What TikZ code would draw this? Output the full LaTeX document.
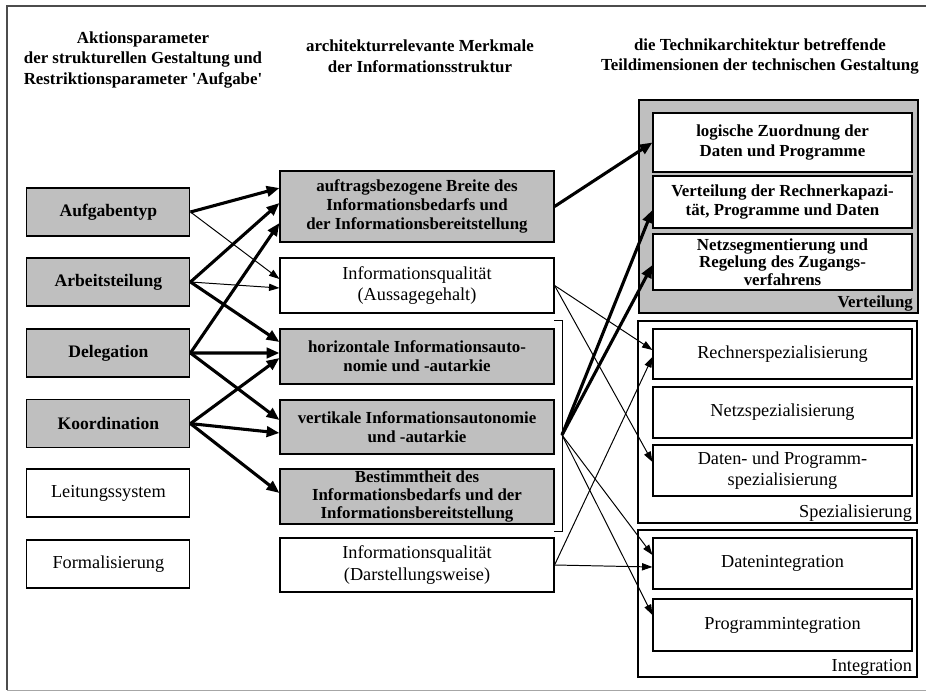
\documentclass[tikz,border=0pt]{standalone}
\usepackage{fontspec}
\setmainfont{Liberation Serif}
\usetikzlibrary{arrows.meta,shapes}

\begin{document}
\begin{tikzpicture}
\tikzstyle{graybox}=[rectangle, draw, line width=0.8pt, fill=black!25, font=\bfseries\fontsize{12}{13.5}\selectfont, align=center, inner sep=0pt]
\tikzstyle{whitebox}=[rectangle, draw, line width=0.8pt, fill=white, font=\fontsize{13}{15}\selectfont, align=center, inner sep=0pt]
\tikzstyle{leftbox}=[minimum width=4.075cm, minimum height=1.2cm]
\tikzstyle{midbox}=[minimum width=6.85cm]
\tikzstyle{rightbox}=[minimum width=6.475cm]
\tikzstyle{groupbox}=[rectangle, draw, line width=0.8pt, minimum width=6.975cm, inner sep=0pt]
\tikzstyle{heading}=[font=\bfseries\fontsize{12}{14.5}\selectfont, align=center]
\tikzstyle{thickarr}=[line width=2.2pt, -{Triangle[length=0.32cm,width=0.26cm]}]
\tikzstyle{thinarr}=[line width=0.7pt, -{Triangle[length=0.26cm,width=0.18cm]}]

\useasboundingbox (0,0) rectangle (23.15,-17.275);

% frame
\draw[black!70, line width=0.9pt] (23.3,-0.15) -- (0.175,-0.15) -- (0.175,-17.25);
\draw[black!35, line width=0.6pt] (0.175,-17.25) -- (23.3,-17.25);

% headings
\node[heading] (h1) at (3.575,-1.5) {Aktionsparameter\\ der strukturellen Gestaltung und\\ Restriktionsparameter \textquotesingle Aufgabe\textquotesingle};
\node[heading] (h2) at (10.5,-1.41) {architekturrelevante Merkmale\\ der Informationsstruktur};
\node[heading] (h3) at (19.0,-1.41) {die Technikarchitektur betreffende\\ Teildimensionen der technischen Gestaltung};

% left column
\node[graybox, leftbox, font=\bfseries\fontsize{12.5}{14}\selectfont] (aufg) at (2.71,-5.3) {Aufgabentyp};
\node[graybox, leftbox, font=\bfseries\fontsize{12.5}{14}\selectfont] (arbt) at (2.71,-7.05) {Arbeitsteilung};
\node[graybox, leftbox, font=\bfseries\fontsize{12.5}{14}\selectfont] (deleg) at (2.71,-8.825) {Delegation};
\node[graybox, leftbox, font=\bfseries\fontsize{12.5}{14}\selectfont] (koord) at (2.71,-10.59) {Koordination};
\node[whitebox, leftbox] (leit) at (2.71,-12.325) {Leitungssystem};
\node[whitebox, leftbox] (formal) at (2.71,-14.1) {Formalisierung};

% middle column
\node[graybox, midbox, minimum height=1.775cm] (breite) at (10.425,-5.1625)
  {auftragsbezogene Breite des\\ Informationsbedarfs und\\ der Informationsbereitstellung};
\node[whitebox, midbox, minimum height=1.375cm] (aussage) at (10.425,-7.1375)
  {Informationsqualität\\ (Aussagegehalt)};
\node[graybox, midbox, minimum height=1.375cm] (horiz) at (10.425,-8.9125)
  {horizontale Informationsauto-\\ nomie und -autarkie};
\node[graybox, midbox, minimum height=1.35cm] (vertik) at (10.425,-10.675)
  {vertikale Informationsautonomie\\ und -autarkie};
\node[graybox, midbox, minimum height=1.375cm, font=\bfseries\fontsize{12}{12.5}\selectfont] (bestimmt) at (10.425,-12.4125)
  {Bestimmtheit des\\ Informationsbedarfs und der\\ Informationsbereitstellung};
\node[whitebox, midbox, minimum height=1.35cm] (darst) at (10.425,-14.125)
  {Informationsqualität\\ (Darstellungsweise)};

% bracket
\coordinate (brk) at (14.05,-10.875);
\draw[line width=0.7pt] (13.85,-8.0) -- (14.05,-8.0) -- (14.05,-13.275) -- (13.85,-13.275);

% right column: Verteilung
\node[groupbox, fill=black!25, minimum height=5.325cm] (verteil) at (19.4625,-5.1625) {};
\node[anchor=south east, font=\bfseries\fontsize{12}{14}\selectfont, inner sep=1pt] (verteillbl) at ([xshift=-0.1cm,yshift=0.02cm]verteil.south east) {Verteilung};
\node[whitebox, rightbox, minimum height=1.475cm, font=\bfseries\fontsize{12}{14}\selectfont] (logik) at (19.5625,-3.5625)
  {logische Zuordnung der\\ Daten und Programme};
\node[whitebox, rightbox, minimum height=1.3cm, font=\bfseries\fontsize{12}{14}\selectfont] (rkap) at (19.5625,-5.05)
  {Verteilung der Rechnerkapazi-\\ tät, Programme und Daten};
\node[whitebox, rightbox, minimum height=1.4cm, font=\bfseries\fontsize{12}{12.5}\selectfont] (netzseg) at (19.5625,-6.55)
  {Netzsegmentierung und\\ Regelung des Zugangs-\\ verfahrens};

% right column: Spezialisierung
\node[groupbox, minimum height=5.05cm] (spez) at (19.4375,-10.55) {};
\node[anchor=south east, font=\fontsize{13}{14}\selectfont, inner sep=1pt] (spezlbl) at ([xshift=-0.1cm,yshift=0.02cm]spez.south east) {Spezialisierung};
\node[whitebox, rightbox, minimum height=1.25cm] (rspez) at (19.5625,-8.85) {Rechnerspezialisierung};
\node[whitebox, rightbox, minimum height=1.275cm] (nspez) at (19.5625,-10.3125) {Netzspezialisierung};
\node[whitebox, rightbox, minimum height=1.275cm] (dpspez) at (19.5625,-11.7625)
  {Daten- und Programm-\\ spezialisierung};

% right column: Integration
\node[groupbox, minimum height=3.675cm] (integ) at (19.4375,-15.0875) {};
\node[anchor=south east, font=\fontsize{13}{14}\selectfont, inner sep=1pt] (integlbl) at ([xshift=-0.1cm,yshift=0.02cm]integ.south east) {Integration};
\node[whitebox, rightbox, minimum height=1.275cm] (dint) at (19.5625,-14.0875) {Datenintegration};
\node[whitebox, rightbox, minimum height=1.3cm] (pint) at (19.5625,-15.625) {Programmintegration};

% left -> middle
\draw[thickarr] (aufg.east) -- ([yshift=0.4625cm]breite.west);
\draw[thinarr] (aufg.east) -- ([yshift=0.1625cm]aussage.west);
\draw[thickarr] (arbt.east) -- ([yshift=0.0875cm]breite.west);
\draw[thinarr] (arbt.east) -- ([yshift=-0.0625cm]aussage.west);
\draw[thickarr] (arbt.east) -- ([yshift=0.3625cm]horiz.west);
\draw[thickarr] (deleg.east) -- ([yshift=-0.4125cm]breite.west);
\draw[thickarr] (deleg.east) -- ([yshift=0.0875cm]horiz.west);
\draw[thickarr] (deleg.east) -- ([yshift=0.175cm]vertik.west);
\draw[thickarr] (koord.east) -- ([yshift=-0.0375cm]horiz.west);
\draw[thickarr] (koord.east) -- ([yshift=-0.15cm]vertik.west);
\draw[thickarr] (koord.east) -- ([yshift=0.0875cm]bestimmt.west);

% middle -> right
\draw[thickarr] (breite.east) -- (logik.west);
\draw[thinarr] (aussage.east) -- ([yshift=0.1cm]rspez.west);
\draw[thinarr] (aussage.east) -- ([yshift=0.2125cm]dpspez.west);
\draw[thickarr] (brk) -- ([yshift=-0.2cm]rkap.west);
\draw[thickarr] (brk) -- ([yshift=-0.075cm]netzseg.west);
\draw[thinarr] (brk) -- ([yshift=0.2125cm]dint.west);
\draw[thinarr] (brk) -- ([yshift=0.25cm]pint.west);
\draw[thinarr] (darst.east) -- ([yshift=-0.0875cm]dint.west);
\draw[thinarr] (darst.east) -- ([yshift=-0.075cm]rspez.west);

\end{tikzpicture}
\end{document}
